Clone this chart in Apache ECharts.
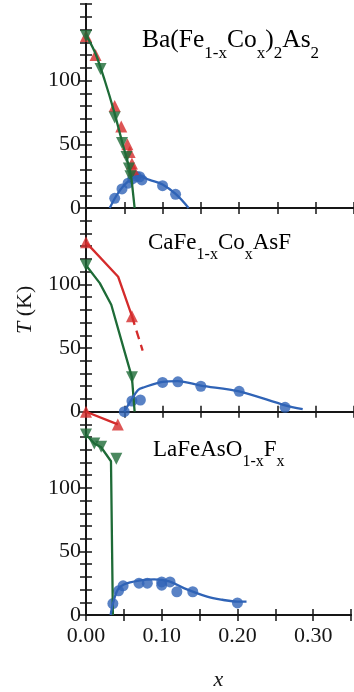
<!DOCTYPE html>
<html>
<head>
<meta charset="utf-8">
<script src="https://cdn.jsdelivr.net/npm/echarts@6/dist/echarts.min.js"></script>
<style>
  html, body { margin: 0; padding: 0; background: #fff; }
  #chart { width: 354px; height: 692px; }
</style>
</head>
<body>
<div id="chart"></div>
<script>
// tick labels
const xTickLabels = [0, 0.1, 0.2, 0.3];
const yTickLabels = [0, 50, 100];

// Ba(Fe1-xCox)2As2
const baTsPts = [[0, 135], [0.0125, 120], [0.0375, 80], [0.046, 64], [0.054, 50], [0.057, 44], [0.060, 35], [0.062, 30]];
const baTnPts = [[0, 135], [0.019, 109], [0.0375, 71], [0.047, 51], [0.053, 40], [0.056, 31], [0.058, 25]];
const baTnCurve = [[0, 136], [0.0125, 121], [0.0245, 100], [0.037, 75], [0.048, 50], [0.055, 35], [0.059, 24], [0.061, 14], [0.0635, 0]];
const baTcPts = [[0.0375, 7.6], [0.047, 15], [0.055, 19.5], [0.061, 23], [0.0655, 25], [0.070, 24.5], [0.073, 22], [0.10, 17.5], [0.117, 10.7]];
const baTcCurve = [[0.031, 0], [0.04, 10], [0.05, 18], [0.06, 23], [0.068, 25], [0.083, 22], [0.10, 18.5], [0.117, 11], [0.134, 0]];

// CaFe1-xCoxAsF
const caTsPts = [[0, 133], [0.06, 75]];
const caTsLine = [[0, 133], [0.042, 106], [0.06, 75]];
const caTsDash = [[0.06, 75], [0.074, 48]];
const caTnPts = [[0, 115], [0.06, 27]];
const caTnLine = [[0, 115], [0.018, 101], [0.033, 84], [0.05, 48], [0.06, 27], [0.0635, 0]];
const caTcPts = [[0.05, 0], [0.06, 8.4], [0.071, 9.2], [0.10, 23], [0.12, 23.5], [0.15, 20], [0.20, 16], [0.26, 3.4]];
const caTcCurve = [[0.05, 0], [0.059, 9], [0.068, 17], [0.075, 19], [0.10, 23.5], [0.12, 24], [0.15, 20.5], [0.20, 16], [0.26, 5], [0.283, 2]];

// LaFeAsO1-xFx
const laTsPts = [[0, 160], [0.042, 150]];
const laTsLine = [[0, 160], [0.042, 150]];
const laTnPts = [[0, 142], [0.011, 135], [0.02, 132.5], [0.04, 123]];
const laTnLine = [[0, 142], [0.011, 135], [0.02, 132], [0.033, 121], [0.0355, 0]];
const laTcPts = [[0.0355, 9], [0.043, 19], [0.049, 23], [0.07, 25], [0.081, 25], [0.10, 26], [0.10, 23.5], [0.111, 26], [0.12, 18.3], [0.141, 18.3], [0.20, 9.5]];
const laTcCurve = [[0.0325, 0], [0.0355, 9], [0.042, 20], [0.05, 24], [0.07, 27], [0.09, 28], [0.11, 26.5], [0.13, 21], [0.16, 14.5], [0.18, 12], [0.20, 10.5], [0.212, 10.5]];

const RED = '#d42b2b';
const GREEN = '#1e6b37';
const BLUE = '#2f63b6';
const INK = '#161616';
const FONT = '"Liberation Serif", "DejaVu Serif", serif';

const gridTops = [4, 208, 411.7];
const gridHeights = [204, 203.7, 203.3];

const chart = echarts.init(document.getElementById('chart'));

const grids = [], xAxes = [], yAxes = [];
gridTops.forEach((top, i) => {
    grids.push({ left: 86, width: 271, top: top, height: gridHeights[i] });
    const line = { lineStyle: { color: INK, width: 1.8 } };
    const tick = { inside: true, length: 6, lineStyle: { color: INK, width: 1.5 } };
    const isLast = i === gridTops.length - 1;
    ['bottom', 'top'].forEach(pos => {
        xAxes.push({
            gridIndex: i, type: 'value', position: pos,
            min: 0, max: 0.35, interval: 0.05,
            axisLine: line, axisTick: tick, splitLine: { show: false },
            name: (pos === 'bottom' && isLast) ? 'x' : '',
            nameLocation: 'middle', nameGap: 54,
            nameTextStyle: { fontFamily: FONT, fontSize: 22, fontStyle: 'italic', color: INK },
            axisLabel: {
                show: pos === 'bottom' && isLast,
                margin: 10, fontFamily: FONT, fontSize: 22, color: INK,
                formatter: v => xTickLabels.some(t => Math.abs(t - v) < 1e-6) ? v.toFixed(2) : ''
            }
        });
    });
    ['left', 'right'].forEach(pos => {
        yAxes.push({
            gridIndex: i, type: 'value', position: pos,
            min: 0, max: 160, interval: 10,
            axisLine: line, axisTick: tick, splitLine: { show: false },
            name: (pos === 'left' && i === 1) ? '{i|T} (K)' : '',
            nameLocation: 'middle', nameGap: 50, nameRotate: 90,
            nameTextStyle: {
                fontFamily: FONT, fontSize: 22, color: INK,
                rich: { i: { fontFamily: FONT, fontSize: 22, fontStyle: 'italic', color: INK } }
            },
            axisLabel: {
                show: pos === 'left', margin: 5, fontFamily: FONT, fontSize: 22, color: INK,
                formatter: v => yTickLabels.indexOf(v) >= 0 ? String(v) : ''
            }
        });
    });
});

function curve(panel, data, color, extra) {
    return Object.assign({
        type: 'line', xAxisIndex: panel * 2, yAxisIndex: panel * 2, data: data,
        symbol: 'none', clip: false, animation: false, silent: true,
        lineStyle: { color: color, width: 2.3 }, itemStyle: { color: color }
    }, extra || {});
}
function marks(panel, data, color, symbol, rotate) {
    return {
        type: 'scatter', xAxisIndex: panel * 2, yAxisIndex: panel * 2, data: data,
        symbol: symbol, symbolSize: symbol === 'circle' ? 11 : 12, symbolRotate: rotate || 0,
        clip: false, animation: false, silent: true,
        itemStyle: { color: color }
    };
}

const series = [
    // panel 1
    curve(0, baTcCurve, BLUE, { smooth: 0.4 }),
    marks(0, baTcPts, BLUE, 'circle'),
    marks(0, baTsPts, RED, 'triangle'),
    curve(0, baTnCurve, GREEN, { smooth: 0.3 }),
    marks(0, baTnPts, GREEN, 'triangle', 180),
    // panel 2
    curve(1, caTsLine, RED),
    curve(1, caTsDash, RED, { lineStyle: { color: RED, width: 2.3, type: [9, 6] } }),
    marks(1, caTsPts, RED, 'triangle'),
    curve(1, caTnLine, GREEN),
    marks(1, caTnPts, GREEN, 'triangle', 180),
    curve(1, caTcCurve, BLUE, { smooth: 0.3 }),
    marks(1, caTcPts, BLUE, 'circle'),
    // panel 3
    curve(2, laTsLine, RED),
    marks(2, laTsPts, RED, 'triangle'),
    curve(2, laTnLine, GREEN),
    marks(2, laTnPts, GREEN, 'triangle', 180),
    curve(2, laTcCurve, BLUE, { smooth: 0.35 }),
    marks(2, laTcPts, BLUE, 'circle')
];

function makeRich(main, sub) {
    return {
        m: { fontFamily: FONT, fontSize: main, lineHeight: Math.round(main * 1.38), verticalAlign: 'top', color: INK },
        s: { fontFamily: FONT, fontSize: sub, lineHeight: sub, verticalAlign: 'bottom', color: INK }
    };
}
function title(left, top, text, main, sub) {
    return { type: 'text', left: left, top: top, silent: true, style: { text: text, rich: makeRich(main, sub) } };
}

chart.setOption({
    animation: false,
    backgroundColor: '#fff',
    grid: grids,
    xAxis: xAxes,
    yAxis: yAxes,
    series: series,
    graphic: [
        title(142, 27, '{m|Ba(Fe}{s|1-x}{m|Co}{s|x}{m|)}{s|2}{m|As}{s|2}', 25.5, 17),
        title(148, 231, '{m|CaFe}{s|1-x}{m|Co}{s|x}{m|AsF}', 23, 16),
        title(153, 438, '{m|LaFeAsO}{s|1-x}{m|F}{s|x}', 23, 16)
    ]
});
</script>
</body>
</html>
